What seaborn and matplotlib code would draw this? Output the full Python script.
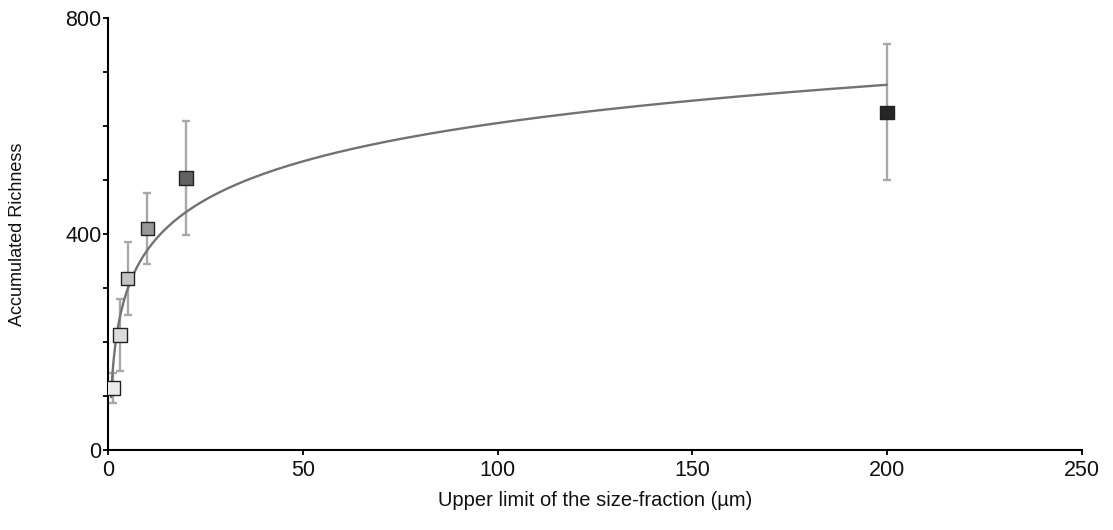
import numpy as np
import pandas as pd
import matplotlib
matplotlib.use("Agg")
import matplotlib.pyplot as plt
import seaborn as sns
from matplotlib.ticker import MultipleLocator

# Upper limit of each size fraction (um) and accumulated richness
size_limit = [1.2, 3, 5, 10, 20, 200]
richness = [115, 213, 318, 411, 504, 626]
richness_err = [28, 67, 68, 66, 105, 126]
marker_colors = ["#ebebeb", "#dcdcdc", "#c4c4c4", "#989898", "#626262", "#262626"]

x_ticks = [0, 50, 100, 150, 200, 250]
y_ticks = [0, 400, 800]

sns.set_theme(style="ticks")
plt.rcParams["font.family"] = ["Liberation Sans", "DejaVu Sans"]

df = pd.DataFrame({"size": size_limit, "richness": richness,
                   "err": richness_err, "grp": [str(v) for v in size_limit]})

# Logarithmic trend line fitted to the accumulated richness
a, b = np.polyfit(np.log(df["size"]), df["richness"], 1)
fit_x = np.linspace(0.7, 200, 600)
fit_df = pd.DataFrame({"size": fit_x, "richness": a * np.log(fit_x) + b})

fig = plt.figure(figsize=(11.13, 5.30), dpi=100)
ax = fig.add_axes([0.0973, 0.151, 0.8744, 0.8145])

ax.errorbar(df["size"], df["richness"], yerr=df["err"], fmt="none",
            ecolor="#a8a8a8", elinewidth=1.7, capsize=3, capthick=1.7, zorder=2)
sns.lineplot(data=fit_df, x="size", y="richness", color="#727272",
             linewidth=1.7, ax=ax, zorder=3)
sns.scatterplot(data=df, x="size", y="richness", hue="grp",
                palette=marker_colors, marker="s", s=92, edgecolor="#222222",
                linewidth=1.0, legend=False, ax=ax, zorder=4)

ax.set_xlim(0, 250)
ax.set_ylim(0, 800)
ax.set_xticks(x_ticks)
ax.set_yticks(y_ticks)
ax.yaxis.set_minor_locator(MultipleLocator(100))
ax.tick_params(axis="both", which="major", labelsize=15.5, length=3.5, width=1.3,
               color="black", labelcolor="#111111")
ax.tick_params(axis="y", which="major", pad=1.5)
ax.tick_params(axis="x", which="major", pad=4)
ax.tick_params(axis="y", which="minor", length=3.5, width=1.3, color="black")

for side in ["top", "right"]:
    ax.spines[side].set_visible(False)
for side in ["left", "bottom"]:
    ax.spines[side].set_color("black")
    ax.spines[side].set_linewidth(1.5)

ax.set_xlabel("Upper limit of the size-fraction (\u00b5m)", fontsize=14.5,
              color="#111111", labelpad=7)
ax.set_ylabel("Accumulated Richness", fontsize=13, color="#111111", labelpad=28)

fig.savefig("out.png", dpi=100, facecolor="white")
